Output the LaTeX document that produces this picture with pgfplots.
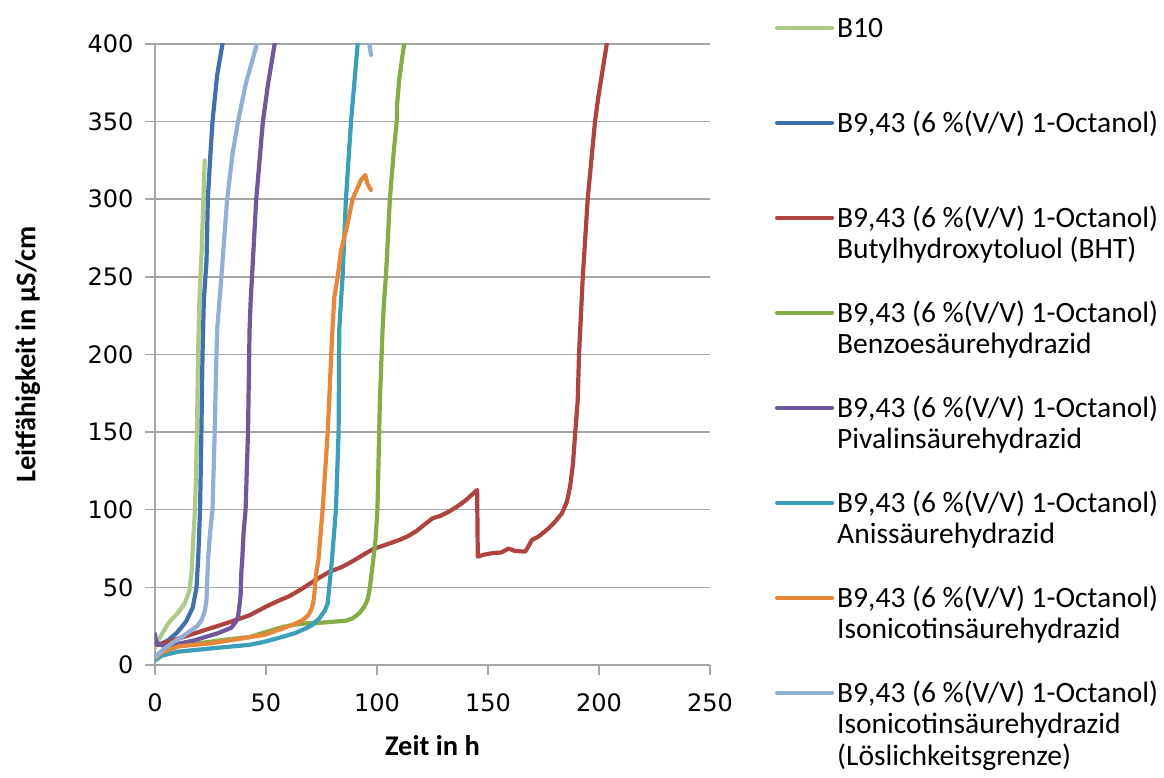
\documentclass[border=0pt]{standalone}
\usepackage{fontspec}
\setmainfont{Carlito}
\newfontfamily\tickfont{DejaVu Sans}
\usepackage{pgfplots}
\pgfplotsset{compat=1.18}

\definecolor{cBten}{HTML}{ADCA8A}
\definecolor{cBlue}{HTML}{4070AE}
\definecolor{cRed}{HTML}{AE4440}
\definecolor{cGreen}{HTML}{86AC45}
\definecolor{cPurple}{HTML}{70589A}
\definecolor{cTeal}{HTML}{3B9FBA}
\definecolor{cOrange}{HTML}{E6873A}
\definecolor{cLBlue}{HTML}{92AFD6}
\definecolor{cGrid}{HTML}{A6A6A6}

\newcommand{\lent}[1]{\raisebox{0pt}[24pt][0pt]{\parbox[t]{340pt}{\strut #1}}}
\newcommand{\oct}{B9,43 (6 \%(V/V) 1-Octanol)}

\begin{document}
\begin{tikzpicture}
\begin{axis}[
  at={(0pt,0pt)}, anchor=south west,
  scale only axis,
  width=555pt, height=621pt,
  xmin=0, xmax=250, ymin=0, ymax=400,
  xtick={0,50,...,250}, ytick={0,50,...,400},
  axis x line*=bottom, axis y line*=left,
  axis line style={draw=cGrid, line width=1.5pt, -},
  tick align=outside, major tick length=10pt,
  tick style={draw=cGrid, line width=1.5pt},
  ymajorgrids,
  major grid style={draw=cGrid, line width=1.5pt},
  /pgf/number format/assume math mode=true,
  tick label style={font=\tickfont\fontsize{24}{29}\selectfont, text=black},
  yticklabel style={xshift=-8pt},
  xticklabel style={yshift=-15pt},
  xlabel={Zeit in h},
  ylabel={Leitfähigkeit in µS/cm},
  label style={font=\fontsize{28.5}{34}\selectfont\bfseries},
  xlabel style={at={(axis description cs:0.5,-0.129)}, anchor=center},
  ylabel style={at={(axis description cs:-0.229,0.5)}, anchor=center},
  every axis plot/.append style={line width=4.2pt, line join=round, line cap=round},
  legend cell align=left,
  legend image code/.code={\draw[#1, line cap=round] (0pt,-2pt) -- (55pt,-2pt);},
  legend style={
    at={(axis description cs:1.1171,1.0499)}, anchor=north west,
    draw=none, fill=none, inner sep=0pt, outer sep=0pt,
    font=\fontsize{29.5}{31.5}\selectfont,
    column sep=3pt, row sep=69.5pt,
    nodes={inner sep=0pt, outer sep=0pt},
  },
]
% B10
\addplot[cBten] coordinates {
(0,11) (1.5,16) (4,22) (6,27) (10,33) (13.5,40) (15.5,48) (16.5,60) (17.2,80)
(18,100) (18.6,130) (19,160) (19.4,200) (20,235) (21.1,270) (21.8,300) (22.4,325)
};
\addlegendentry{\lent{B10}}
% Octanol
\addplot[cBlue] coordinates {
(0,17) (1,14) (2,13) (6,16) (10,21) (14,28) (17,37) (18.7,50) (19.5,70)
(20.3,100) (20.9,150) (21.4,200) (22,235) (23.2,260) (23.8,300) (25,330)
(25.9,350) (28,380) (30.4,400) (31,410)
};
\addlegendentry{\lent{\oct}}
% BHT
\addplot[cRed] coordinates {
(0,14) (1,13) (5,14.5) (10.5,17) (16,19.5) (22.4,22.5) (28,25) (34.4,28)
(42.6,32) (50,37.6) (55,41) (60,44) (65,48) (72.6,55) (78.5,60) (84,63)
(88,66) (95,72) (98.7,75) (102,76.5) (106,78.5) (110,80.5) (114,83) (117.5,86)
(121,90) (125,94.5) (128.5,96) (132.4,98.8) (136,102) (139.9,106) (143,110)
(145.1,112.7) (145.4,69.8) (148,71) (151.8,72) (156,72.5) (159.3,75) (162,73.5)
(166.8,73) (169.8,80.5) (173,83) (177.3,88) (180,92) (183.3,97.7) (185.5,105)
(187,115) (188.3,130) (189.3,150) (190.4,170) (191,200) (192.7,250) (194.9,300)
(198.2,350) (199.7,366) (203.5,400) (204,405)
};
\addlegendentry{\lent{\oct\\Butylhydroxytoluol (BHT)}}
% Benzoesaeurehydrazid
\addplot[cGreen] coordinates {
(0,5) (3,9) (10,12) (20,14) (30,16) (42.6,18) (49.4,21) (57.6,24.5) (63,26)
(68,26.8) (72.6,27) (77,27.5) (86,28.5) (89,30) (92,33.3) (94.5,38) (95.7,42)
(96.6,48) (97.3,56) (98.3,67.6) (99.3,80) (100.2,100) (101.3,170) (102.5,216)
(103.2,235) (104,250) (105.8,300) (107.5,330) (109,352) (109,360) (110,377)
(112.2,400) (112.6,405)
};
\addlegendentry{\lent{\oct\\Benzoesäurehydrazid}}
% Pivalinsaeurehydrazid
\addplot[cPurple] coordinates {
(0,20) (0.5,14) (4.5,12) (10,13.5) (18,16) (28.4,20.5) (34.4,24) (36.5,28)
(37.4,31) (38.2,40) (38.6,46) (38.9,60) (39.3,68) (39.9,85) (40.8,100)
(41.9,150) (42.6,216) (43.1,235) (43.7,250) (45.6,300) (48.6,350) (51,375)
(53.9,400) (54.5,408)
};
\addlegendentry{\lent{\oct\\Pivalinsäurehydrazid}}
% Anissaeurehydrazid
\addplot[cTeal] coordinates {
(0,3) (3,6) (10.5,8.6) (25.4,10.7) (42.6,13) (49.4,15) (57.6,18.2) (63,20.5)
(68,23.6) (71,26) (74,30) (76.5,35) (77.8,39.7) (78.8,54.7) (79.7,67.6)
(81.5,100) (82.7,150) (83,216) (83.8,235) (84.5,250) (86,300) (88.3,350)
(91.3,400) (91.8,408)
};
\addlegendentry{\lent{\oct\\Anissäurehydrazid}}
% Isonicotinsaeurehydrazid
\addplot[cOrange] coordinates {
(0,4.5) (3,8) (10.5,12) (25.4,14) (40.4,17.4) (49.4,19.5) (57.6,23.6) (63,26.5)
(66.6,29) (69,32) (70.3,35.4) (71.3,40) (71.8,46) (72.6,59) (73.6,67.6)
(75.5,100) (77.8,150) (79.8,213) (80.8,237) (82.3,250) (83.8,267) (86.8,284.5)
(89,300) (90.8,306) (92.8,312.4) (94.7,315.6) (95.7,310) (97.3,306)
};
\addlegendentry{\lent{\oct\\Isonicotinsäurehydrazid}}
% Isonicotinsaeurehydrazid (Loeslichkeitsgrenze)
\addplot[cLBlue] coordinates {
(0,5) (3,9) (7.5,14) (12,18) (16.5,22.5) (19,25) (21,29) (22.5,35) (23.2,42)
(23.9,68) (24.8,85) (25.9,100) (26.9,150) (27.5,190) (28,216) (29.9,250)
(32.5,300) (35,330) (37.4,350) (41,375) (45.9,400) (55,430) (75,470)
(96.3,402) (97.3,393)
};
\addlegendentry{\lent{\oct\\Isonicotinsäurehydrazid\\(Löslichkeitsgrenze)}}
\end{axis}
\pgfresetboundingbox
\useasboundingbox (-155pt,-113pt) rectangle (1009pt,665pt);
\end{tikzpicture}
\end{document}
